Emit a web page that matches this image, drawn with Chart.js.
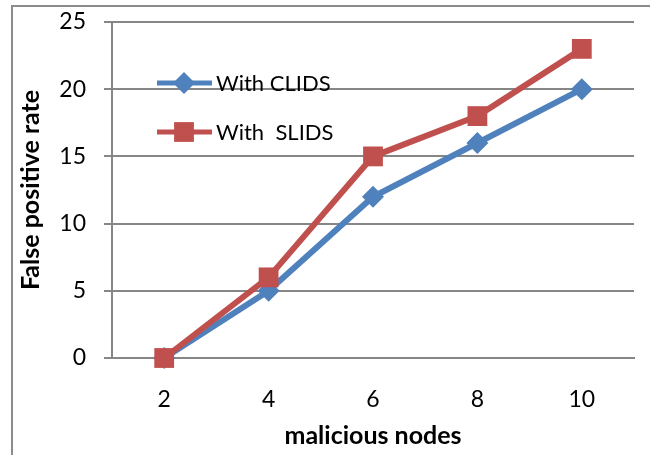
<!DOCTYPE html>
<html>
<head>
<meta charset="utf-8">
<script src="https://cdn.jsdelivr.net/npm/chart.js@4"></script>
<style>
  html, body { margin: 0; padding: 0; background: #fff; }
  #wrap { position: relative; width: 650px; height: 455px; overflow: hidden; }
  #frame { position: absolute; left: 11px; top: 5px; width: 700px; height: 500px; border: 2px solid #8c8c8c; box-sizing: border-box; }
  canvas { position: absolute; left: 0; top: 0; }
</style>
</head>
<body>
<div id="wrap">
  <div id="frame"></div>
  <canvas id="chart" width="650" height="455"></canvas>
</div>
<script>
// data
const nodes = ['2', '4', '6', '8', '10']
const clids = [0, 5, 12, 16, 20]
const slids = [0, 6, 15, 18, 23]
const seriesNames = ['With CLIDS', 'With  SLIDS']

const blue = '#4f81bd'
const red = '#c0504d'
const grey = '#868686'
const fontFamily = 'Lato, "DejaVu Sans", sans-serif'

// Excel style legend: short line with the marker in the middle
const lineLegend = {
    id: 'lineLegend',
    afterDraw(chart) {
        const ctx = chart.ctx
        const rows = [83, 132]
        chart.data.datasets.forEach((ds, i) => {
            const y = rows[i]
            ctx.save()
            ctx.strokeStyle = ds.borderColor
            ctx.lineWidth = 5
            ctx.beginPath()
            ctx.moveTo(157, y)
            ctx.lineTo(212, y)
            ctx.stroke()
            ctx.fillStyle = ds.pointBackgroundColor
            Chart.helpers.drawPoint(ctx, {
                pointStyle: ds.pointStyle,
                radius: ds.pointRadius,
                rotation: 0,
                borderWidth: 0
            }, 184, y)
            ctx.fillStyle = '#000'
            ctx.font = '22px ' + fontFamily
            ctx.textBaseline = 'middle'
            ctx.fillText(ds.label, 216, y + 1)
            ctx.restore()
        })
    }
}

const lineConfig = {
    type: 'line',
    data: {
        labels: nodes,
        datasets: [{
            label: seriesNames[0],
            data: clids,
            borderColor: blue,
            backgroundColor: blue,
            pointBackgroundColor: blue,
            pointBorderWidth: 0,
            borderWidth: 6,
            pointStyle: 'rectRot',
            pointRadius: 11,
            pointHoverRadius: 11,
            tension: 0,
            clip: false,
            order: 1,
        }, {
            label: seriesNames[1],
            data: slids,
            borderColor: red,
            backgroundColor: red,
            pointBackgroundColor: red,
            pointBorderWidth: 0,
            borderWidth: 6,
            pointStyle: 'rect',
            pointRadius: 14,
            pointHoverRadius: 14,
            tension: 0,
            clip: false,
            order: 0,
        }],
    },
    options: {
        responsive: false,
        animation: false,
        layout: { padding: { top: 22, right: 16, left: 0, bottom: 0 } },
        plugins: {
            legend: { display: false },
            tooltip: { enabled: false },
        },
        scales: {
            x: {
                offset: true,
                grid: { display: false, drawTicks: false },
                border: { color: grey, width: 2 },
                ticks: { color: '#000', font: { family: fontFamily, size: 23 }, padding: 28 },
                title: {
                    display: true,
                    text: 'malicious nodes',
                    color: '#000',
                    font: { family: fontFamily, size: 25, weight: 'bold' },
                    padding: { top: 4, bottom: 4 },
                },
                afterFit(scale) {
                    scale.height = 97
                    scale.paddingLeft = 0
                    scale.paddingRight = 0
                },
            },
            y: {
                min: 0,
                max: 25,
                grid: { color: grey, lineWidth: 2, tickLength: 8 },
                border: { color: grey, width: 2 },
                ticks: { stepSize: 5, color: '#000', font: { family: fontFamily, size: 23 }, padding: 18 },
                title: {
                    display: true,
                    text: 'False positive rate',
                    color: '#000',
                    font: { family: fontFamily, size: 25, weight: 'bold' },
                    padding: { top: 16, bottom: 4 },
                },
                afterFit(scale) {
                    scale.width = 112
                    scale.paddingTop = 0
                    scale.paddingBottom = 0
                },
            },
        },
    },
    plugins: [lineLegend],
}

const chartCtx = document.getElementById('chart')
Promise.all([
    document.fonts.load('23px Lato'),
    document.fonts.load('bold 25px Lato'),
]).catch(() => {}).then(() => {
    window.myLine = new Chart(chartCtx, lineConfig)
})
</script>
</body>
</html>
